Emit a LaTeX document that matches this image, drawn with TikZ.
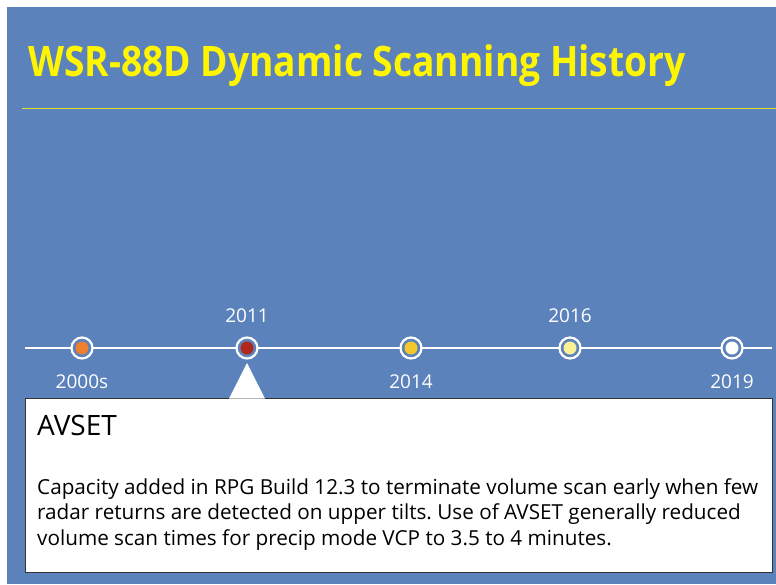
\documentclass[tikz,border=0pt]{standalone}
\usepackage{fontspec}
\setmainfont{Open Sans}
\frenchspacing
\definecolor{bgblue}{RGB}{91,130,187}
\definecolor{titleyellow}{RGB}{255,245,0}
\definecolor{dotA}{RGB}{240,128,48}
\definecolor{dotB}{RGB}{175,40,25}
\definecolor{dotC}{RGB}{245,200,45}
\definecolor{dotD}{RGB}{250,240,150}
\definecolor{dotE}{RGB}{255,255,255}
\begin{document}
\begin{tikzpicture}[x=1pt,y=-1pt,
  ring/.style={circle,draw=white,line width=2.2pt,fill=bgblue,minimum size=21pt,inner sep=0pt},
  yearlbl/.style={text=white,font=\fontsize{19}{22}\selectfont,inner sep=0pt},
  tline/.style={draw=white,line width=2.5pt}]
\useasboundingbox (0,0) rectangle (776,584);
\fill[white] (0,0) rectangle (776,584);
\fill[bgblue] (7,7) rectangle (776,584);
\node[anchor=base west,text=titleyellow,font=\fontsize{42}{48}\bfseries\selectfont,inner sep=0pt] (title) at (28,76) {\scalebox{0.885}[1]{WSR-88D Dynamic Scanning History}};
\coordinate (ulA) at (22,108);
\coordinate (ulB) at (776,108);
\draw[titleyellow!80!bgblue,line width=1pt] (ulA) -- (ulB);
\coordinate (tlA) at (25,348);
\coordinate (tlB) at (772,348);
\draw[tline] (tlA) -- (tlB);
\foreach \n/\x/\c in {a/82/dotA,b/247/dotB,c/411/dotC,d/570/dotD,e/732/dotE}{
  \node[ring] (\n) at (\x,348) {};
  \fill[\c] (\n) circle (6.5pt);
}
\node[yearlbl,anchor=base] (y2011) at (247,322) {2011};
\node[yearlbl,anchor=base] (y2016) at (570,322) {2016};
\node[yearlbl,anchor=base] (y2000) at (82,388) {2000s};
\node[yearlbl,anchor=base] (y2014) at (411,388) {2014};
\node[yearlbl,anchor=base] (y2019) at (732,388) {2019};
\node[draw=black!80,fill=white,line width=1pt,minimum width=747pt,minimum height=174pt,inner sep=0pt,anchor=north west] (box) at (25,398) {};
\fill[white] (229,398.6) -- (247,363) -- (265,398.6) -- cycle;
\node[anchor=base west,inner sep=0pt,font=\fontsize{28}{30}\selectfont] (head) at (37,435) {AVSET};
\node[anchor=base west,inner sep=0pt,align=left,font=\fontsize{20.7}{25.5}\selectfont] (body) at (37,545) {Capacity added in RPG Build 12.3 to terminate volume scan early when few\\radar returns are detected on upper tilts. Use of AVSET generally reduced\\volume scan times for precip mode VCP to 3.5 to 4 minutes.};
\end{tikzpicture}
\end{document}
